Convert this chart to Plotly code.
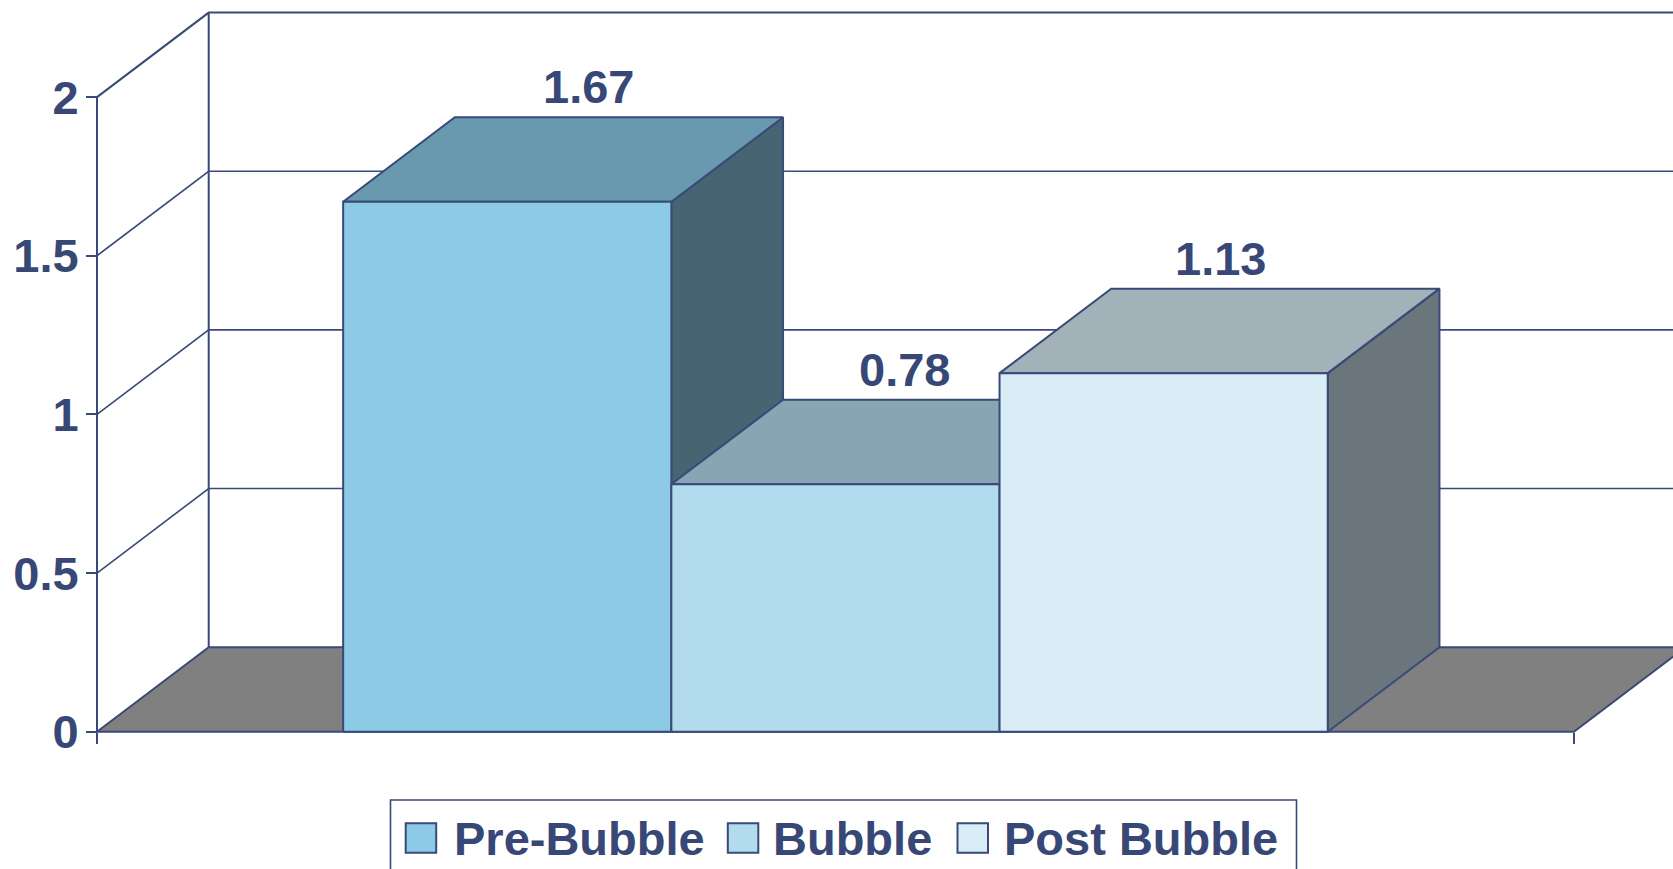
import plotly.graph_objects as go

# ---------------- data ----------------
series_names = ["Pre-Bubble", "Bubble", "Post Bubble"]
series_values = [1.67, 0.78, 1.13]
value_labels = ["1.67", "0.78", "1.13"]
y_tick_vals = [0, 0.5, 1, 1.5, 2]
y_tick_text = ["0", "0.5", "1", "1.5", "2"]

# ---------------- style ----------------
front_colors = ["#8CCAE6", "#B2DBED", "#D8EDF5"]
top_colors = ["#6899AE", "#87A5B2", "#A3B2B8"]
side_colors = ["#466472", "#586E78", "#6B767C"]
floor_color = "#808080"
navy = "#3A4A78"
text_color = "#384876"
FONT = "Liberation Sans, Arial, Helvetica, sans-serif"
FS = 47

W, H = 1673, 869
L_M, R_M, T_M, B_M = 95, 0, 8, 135
PX_X = 328.2          # pixels per bar width
PX_Y = 317.3          # pixels per value unit
Y0_PX = 731.7         # pixel row of value 0
X0_PX = 97.0          # pixel column of the front axis

GAP = 0.75            # half gap (bar widths) on each side of the cluster
DX = 111.7 / PX_X     # depth offset (x, in bar widths)
DY = 84.5 / PX_Y      # depth offset (y, in value units)
LABEL_SPREAD = 0.962  # label spacing relative to bar spacing
LABEL_DEPTH = 0.62    # label position along depth
Y_MAX = max(y_tick_vals)
N = len(series_values)
X_FRONT_END = 2 * GAP + N

pw = W - L_M - R_M
ph = H - T_M - B_M
x_min = -(X0_PX - L_M) / PX_X
x_max = x_min + pw / PX_X
y_min = -((H - B_M) - Y0_PX) / PX_Y
y_max = y_min + ph / PX_Y

fig = go.Figure()

def poly(xs, ys, fill, lw=2):
    fig.add_trace(go.Scatter(
        x=list(xs) + [xs[0]], y=list(ys) + [ys[0]],
        mode="lines", fill="toself", fillcolor=fill,
        line=dict(color=navy, width=lw), hoverinfo="skip", showlegend=False))

def seg(xs, ys, lw=1.6):
    fig.add_trace(go.Scatter(
        x=xs, y=ys, mode="lines", line=dict(color=navy, width=lw),
        hoverinfo="skip", showlegend=False))

# walls: gridlines on left and back walls
far = X_FRONT_END + DX
for v in y_tick_vals[1:]:
    seg([0, DX, far], [v, v + DY, v + DY], lw=1.6 if v < Y_MAX else 2)
# back wall vertical edge
seg([DX, DX], [DY, Y_MAX + DY], lw=2)

# floor
poly([0, DX, far, X_FRONT_END], [0, DY, DY, 0], floor_color)

# front value axis line
seg([0, 0], [0, Y_MAX], lw=2)

# bars (left to right so right bars overlap left ones' side faces)
for i, v in enumerate(series_values):
    x0 = GAP + i
    x1 = x0 + 1
    poly([x1, x1, x1 + DX, x1 + DX], [0, v, v + DY, DY], side_colors[i])
    poly([x0, x0 + DX, x1 + DX, x1], [v, v + DY, v + DY, v], top_colors[i])
    poly([x0, x1, x1, x0], [0, 0, v, v], front_colors[i])

# data labels
cluster_c = GAP + N / 2
for i, v in enumerate(series_values):
    bc = GAP + i + 0.5
    xc = cluster_c + (bc - cluster_c) * LABEL_SPREAD + LABEL_DEPTH * DX
    fig.add_annotation(x=xc, y=v + DY, text=value_labels[i], showarrow=False,
                       xanchor="center", yanchor="bottom", yshift=2,
                       font=dict(family=FONT, size=FS, color=text_color, weight="bold"))

# ---------------- custom legend (layout in pixels -> paper) ----------------
def px_x(p):
    return (p - L_M) / pw
def px_y(p):
    return (H - B_M - p) / ph

fig.add_shape(type="rect", xref="paper", yref="paper",
              x0=px_x(390.5), x1=px_x(1296.5), y0=px_y(800), y1=px_y(890),
              line=dict(color=navy, width=1.6), fillcolor="white", layer="above")

legend_sq_x = [405.7, 727.8, 957.5]
legend_tx_x = [452.0, 770.5, 1002.0]
for i, name in enumerate(series_names):
    fig.add_shape(type="rect", xref="paper", yref="paper",
                  x0=px_x(legend_sq_x[i]), x1=px_x(legend_sq_x[i] + 30.5),
                  y0=px_y(823.3), y1=px_y(852.7),
                  line=dict(color=navy, width=2), fillcolor=front_colors[i], layer="above")
    fig.add_annotation(xref="paper", yref="paper", x=px_x(legend_tx_x[i]), y=px_y(838),
                       text=name, showarrow=False, xanchor="left", yanchor="middle",
                       font=dict(family=FONT, size=FS, color=text_color, weight="bold"))

fig.update_layout(
    width=W, height=H,
    margin=dict(l=L_M, r=R_M, t=T_M, b=B_M, pad=0),
    paper_bgcolor="white", plot_bgcolor="white",
    showlegend=False,
    xaxis=dict(range=[x_min, x_max], showgrid=False, zeroline=False, showline=False,
               anchor="free", position=px_y(Y0_PX),
               tickvals=[0, X_FRONT_END], ticktext=["", ""], ticks="outside",
               ticklen=11, tickwidth=2, tickcolor=navy, showticklabels=False,
               fixedrange=True),
    yaxis=dict(range=[y_min, y_max], showgrid=False, zeroline=False, showline=False,
               anchor="free", position=px_x(X0_PX),
               tickvals=y_tick_vals, ticktext=y_tick_text, ticks="outside",
               ticklen=11, tickwidth=2, tickcolor=navy, ticklabelstandoff=-2,
               tickfont=dict(family=FONT, size=FS, color=text_color, weight="bold"),
               fixedrange=True),
)

fig.write_html("out.html", config={"displayModeBar": False},
               post_script="document.body.style.margin='0';")
